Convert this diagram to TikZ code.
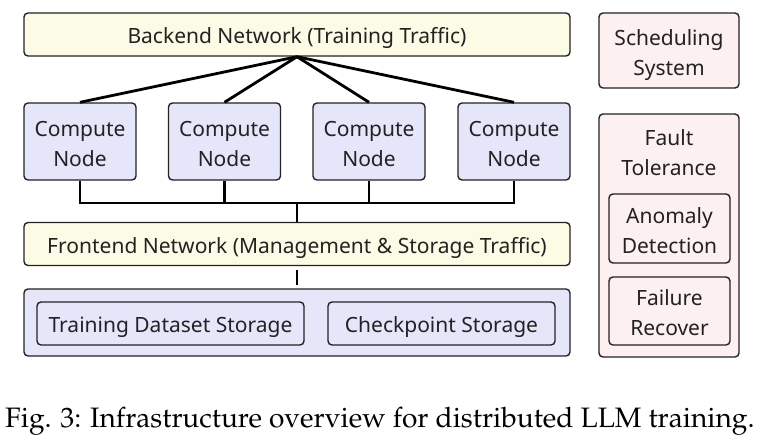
\documentclass[tikz,border=0pt]{standalone}
\usepackage{fontspec}
\setmainfont{Noto Sans}
\definecolor{ylw}{HTML}{FCFCE6}
\definecolor{lav}{HTML}{E6E6FA}
\definecolor{pnk}{HTML}{FCF0F0}
\definecolor{edge}{HTML}{222222}
\definecolor{txt}{HTML}{222222}
\begin{document}
\begin{tikzpicture}[x=1pt,y=-1pt,
  box/.style={draw=edge,line width=1.4pt,rounded corners=4pt,inner sep=0pt,align=center,
    text=txt,font=\fontsize{21}{30}\selectfont},
  oneline/.style={text height=18pt,text depth=0pt},
  twoline/.style={text height=49pt,text depth=0pt},
  ybox/.style={box,fill=ylw,oneline},
  lbox/.style={box,fill=lav},
  pbox/.style={box,fill=pnk},
  conn/.style={line width=2.8pt,black}]
\useasboundingbox (0,0) rectangle (766,442);
\node[ybox,minimum width=546pt,minimum height=43pt] (backend) at (297,34.5) {Backend Network (Training Traffic)};
\node[lbox,twoline,minimum width=112pt,minimum height=77pt] (c1) at (80,141.5) {Compute\\Node};
\node[lbox,twoline,minimum width=112pt,minimum height=77pt] (c2) at (224.5,141.5) {Compute\\Node};
\node[lbox,twoline,minimum width=112pt,minimum height=77pt] (c3) at (369,141.5) {Compute\\Node};
\node[lbox,twoline,minimum width=112pt,minimum height=77pt] (c4) at (514,141.5) {Compute\\Node};
\node[ybox,minimum width=546pt,minimum height=43pt] (frontend) at (297,244) {Frontend Network (Management \& Storage Traffic)};
\node[lbox,minimum width=546pt,minimum height=67pt] (storage) at (297,322.5) {};
\node[lbox,oneline,minimum width=267pt,minimum height=43pt] (tds) at (170.5,323.5) {Training Dataset Storage};
\node[lbox,oneline,minimum width=227pt,minimum height=43pt] (ckpt) at (441.5,323.5) {Checkpoint Storage};
\node[pbox,twoline,minimum width=140pt,minimum height=75pt] (sched) at (669,50.5) {Scheduling\\System};
\node[pbox,minimum width=140pt,minimum height=243pt] (fault) at (669,235.5) {};
\node[align=center,text=txt,font=\fontsize{21}{30}\selectfont,inner sep=0pt] (ftitle) at (669,153) {Fault\\Tolerance};
\node[pbox,twoline,minimum width=121pt,minimum height=69pt] (anom) at (669.5,228.5) {Anomaly\\Detection};
\node[pbox,twoline,minimum width=121pt,minimum height=68pt] (fail) at (669.5,311) {Failure\\Recover};
\foreach \c in {c1,c2,c3,c4} \draw[conn] (backend.south) -- (\c.north);
\coordinate (bus) at (297,203);
\draw[conn] (c1.south) |- (bus) -| (c4.south);
\draw[conn] (c2.south) -- (c2.south |- bus);
\draw[conn] (c3.south) -- (c3.south |- bus);
\draw[conn] (bus) -- (frontend.north);
\draw[conn,shorten <=4pt,shorten >=3pt] (frontend.south) -- (storage.north);
\node[anchor=base west,inner sep=0pt,font=\fontencoding{T1}\fontfamily{ppl}\fontsize{28.1}{30}\selectfont] (cap) at (5,427) {Fig. 3: Infrastructure overview for distributed LLM training.};
\end{tikzpicture}
\end{document}
